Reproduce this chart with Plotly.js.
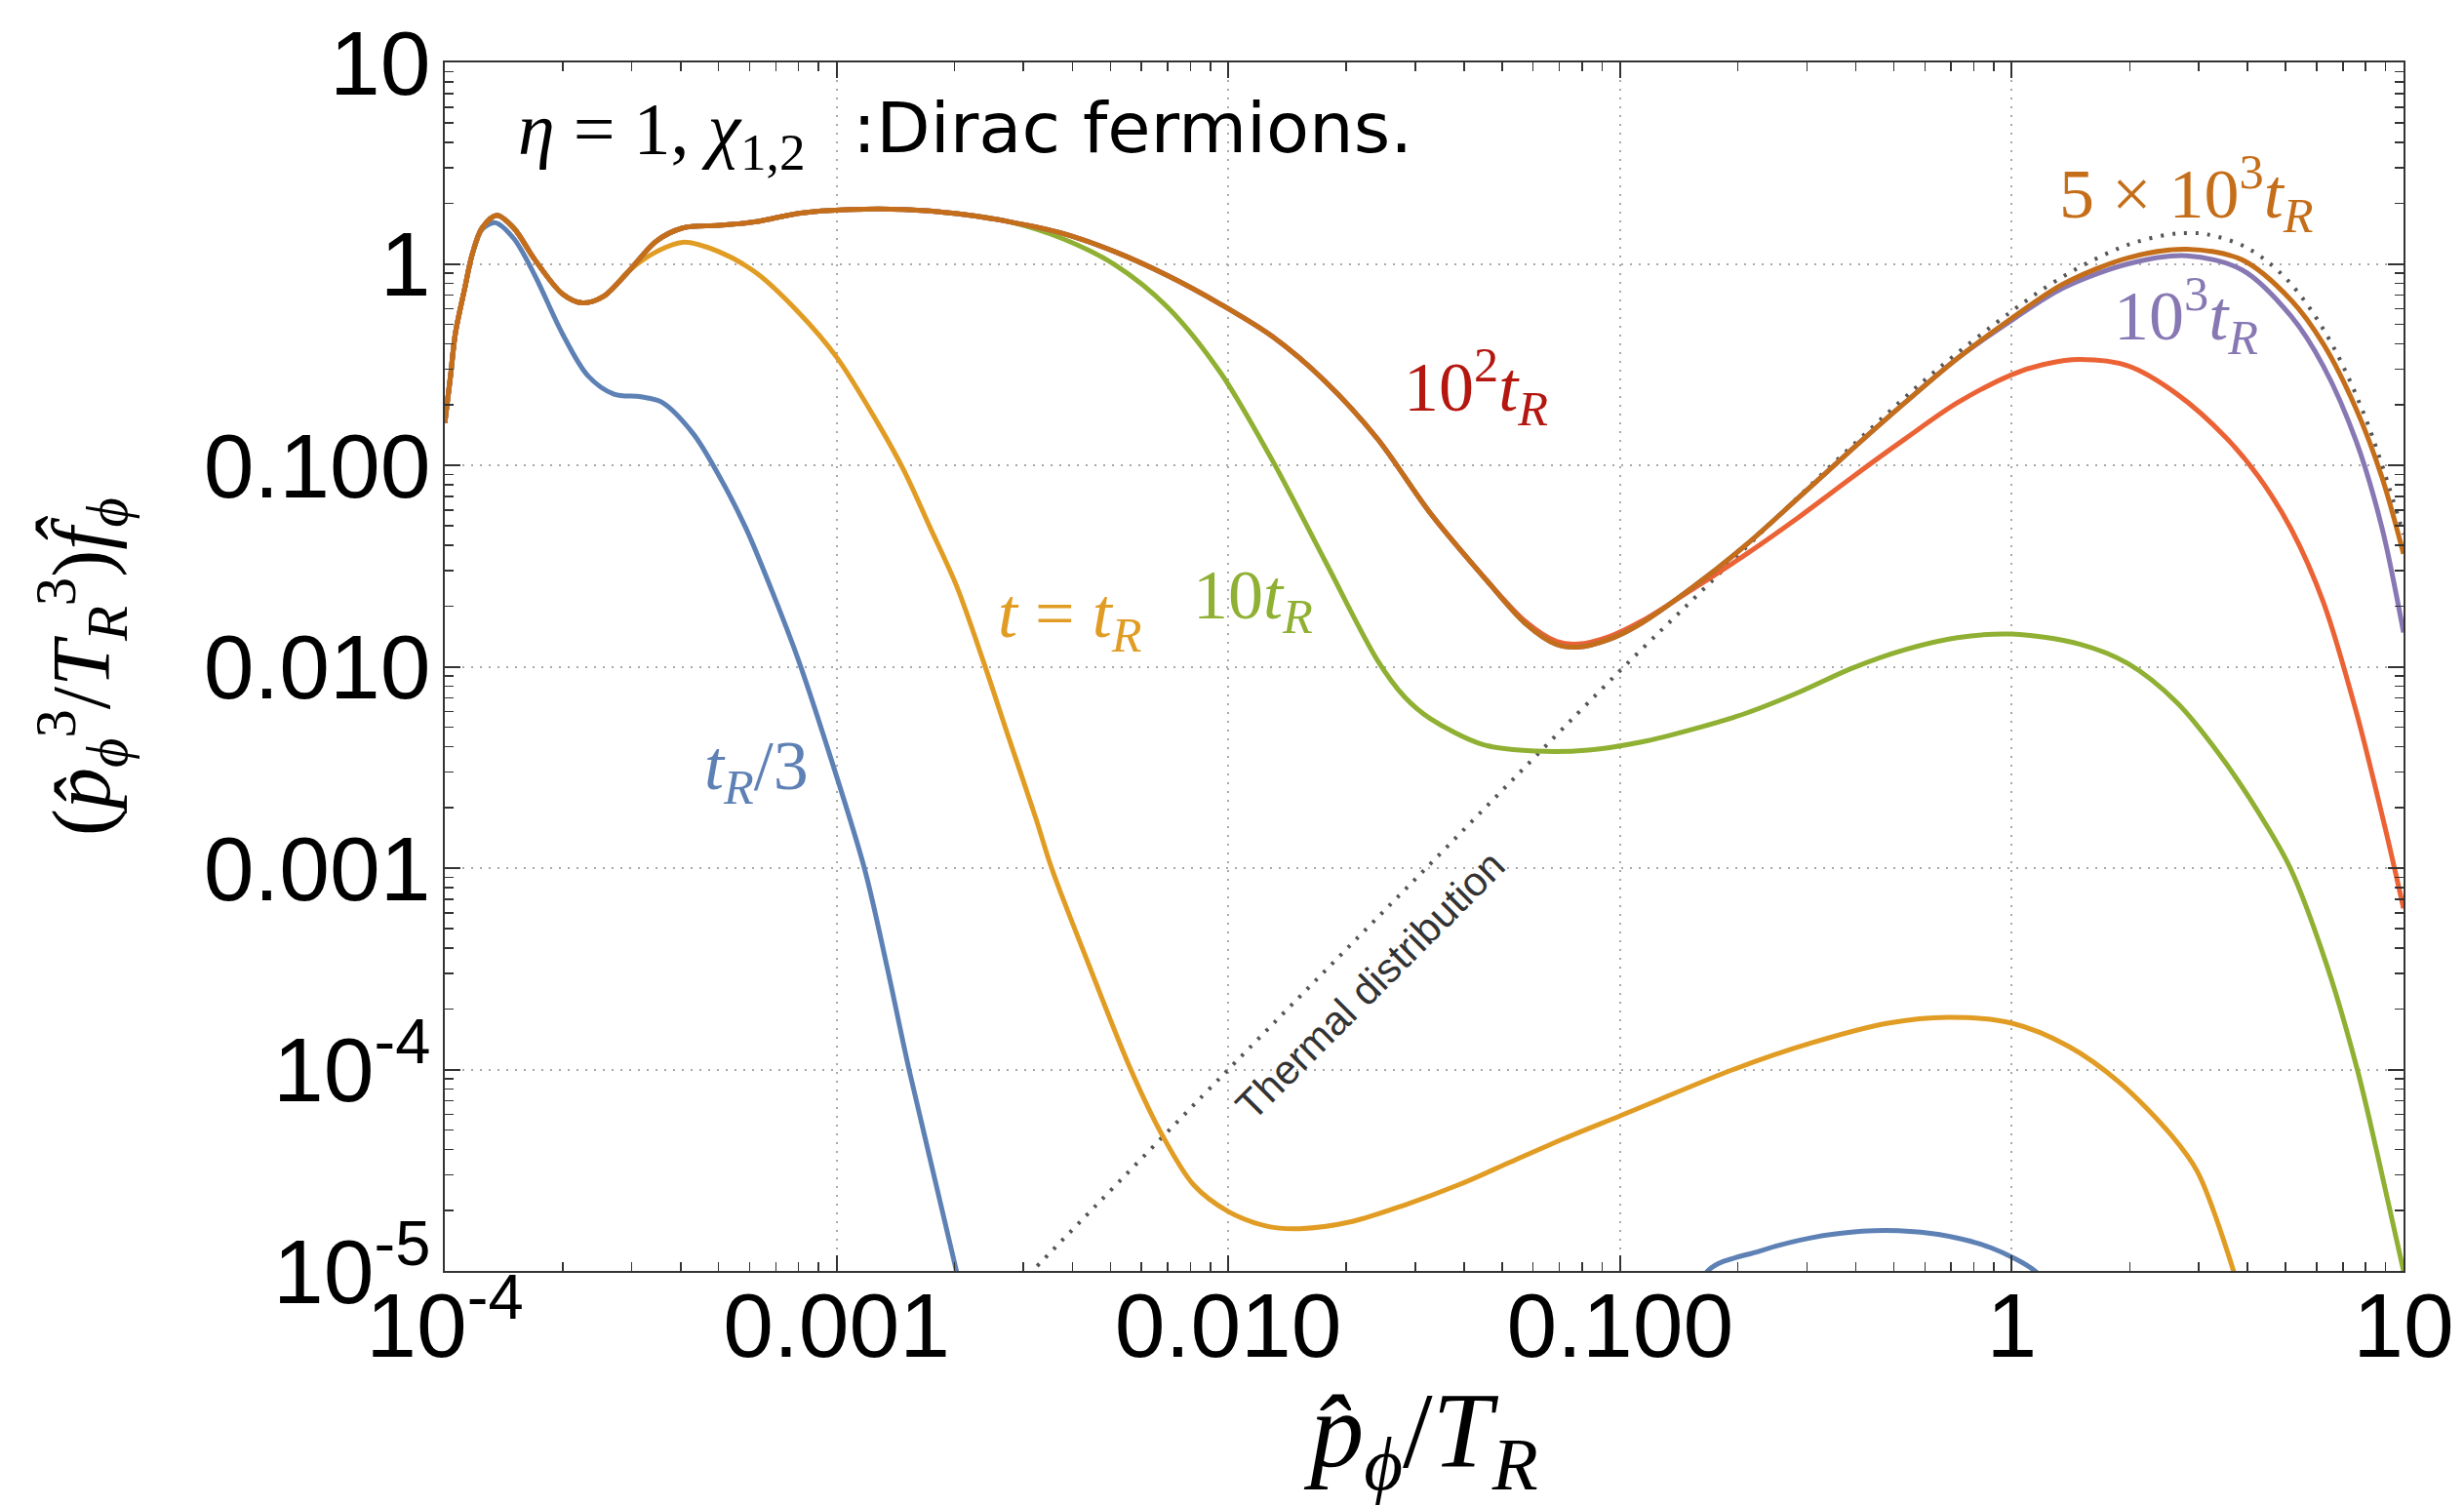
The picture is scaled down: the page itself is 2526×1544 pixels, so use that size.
<!DOCTYPE html>
<html>
<head>
<meta charset="utf-8">
<script src="https://cdn.plot.ly/plotly-3.0.1.min.js"></script>
<style>html,body{margin:0;padding:0;background:#ffffff;}</style>
</head>
<body>
<div id="chart" style="width:2526px;height:1544px;"></div>
<script>
// All curve values are readings from the reference, stored as log10(x) / log10(y).
// Shared low-momentum part (all curves coincide here)
const commonLogX = [-4.0, -3.985, -3.973, -3.95, -3.93, -3.905, -3.867, -3.824, -3.77, -3.70, -3.649, -3.595, -3.528, -3.46, -3.393, -3.30, -3.205, -3.097, -2.962, -2.828, -2.693, -2.559];
const commonLogY = [-0.79, -0.55, -0.345, -0.13, 0.047, 0.178, 0.241, 0.178, 0.02, -0.149, -0.194, -0.162, -0.031, 0.113, 0.178, 0.191, 0.209, 0.251, 0.27, 0.27, 0.249, 0.209];

// 5x10^3 t_R (continuation after the common part)
const brownTailLogX = [-2.424, -2.289, -2.155, -2.02, -1.888, -1.754, -1.619, -1.485, -1.35, -1.242, -1.162, -1.108, -1.027, -0.946, -0.812, -0.677, -0.542, -0.408, -0.273, -0.139, 0, 0.131, 0.297, 0.447, 0.588, 0.713, 0.796, 0.879, 0.945, 1.0];
const brownTailLogY = [0.152, 0.06, -0.058, -0.2, -0.36, -0.581, -0.869, -1.236, -1.55, -1.785, -1.89, -1.903, -1.864, -1.785, -1.602, -1.393, -1.157, -0.921, -0.69, -0.47, -0.27, -0.1, 0.03, 0.073, 0.02, -0.18, -0.40, -0.72, -1.06, -1.44];

// 10^3 t_R (follows 5x10^3 t_R up to p ~ 0.7)
const purpleTailLogX = [0, 0.131, 0.297, 0.447, 0.588, 0.713, 0.796, 0.879, 0.945, 1.0];
const purpleTailLogY = [-0.28, -0.12, 0.0, 0.04, -0.03, -0.26, -0.51, -0.88, -1.31, -1.83];

// 10^2 t_R (follows 5x10^3 t_R up to p ~ 0.045)
const redTailLogX = [-1.242, -1.162, -1.108, -1.027, -0.946, -0.812, -0.677, -0.542, -0.408, -0.273, -0.139, 0, 0.08, 0.173, 0.297, 0.422, 0.547, 0.63, 0.713, 0.796, 0.879, 0.953, 1.0];
const redTailLogY = [-1.775, -1.875, -1.888, -1.85, -1.775, -1.612, -1.44, -1.255, -1.06, -0.87, -0.69, -0.55, -0.5, -0.475, -0.507, -0.647, -0.863, -1.057, -1.316, -1.683, -2.222, -2.8, -3.2];

// 10 t_R
const greenTailLogX = [-2.424, -2.289, -2.155, -2.02, -1.888, -1.754, -1.619, -1.55, -1.485, -1.35, -1.215, -1.081, -0.946, -0.812, -0.677, -0.542, -0.408, -0.273, -0.139, 0, 0.173, 0.297, 0.422, 0.547, 0.654, 0.711, 0.803, 0.882, 0.934, 1.0];
const greenTailLogY = [0.126, -0.005, -0.215, -0.54, -0.974, -1.471, -1.969, -2.15, -2.257, -2.387, -2.419, -2.414, -2.374, -2.309, -2.23, -2.126, -2.008, -1.916, -1.856, -1.838, -1.888, -1.985, -2.179, -2.481, -2.8, -3.0, -3.475, -4.0, -4.426, -5.0];

// t = t_R
const yellowTailLogX = [-3.46, -3.393, -3.30, -3.205, -3.097, -3.0, -2.895, -2.828, -2.76, -2.693, -2.626, -2.559, -2.491, -2.451, -2.357, -2.249, -2.168, -2.088, -2.0, -1.899, -1.818, -1.683, -1.549, -1.414, -1.279, -1.144, -1.0, -0.908, -0.711, -0.513, -0.316, -0.164, 0, 0.145, 0.276, 0.408, 0.474, 0.566, 0.6];
const yellowTailLogY = [0.06, 0.107, 0.06, -0.045, -0.241, -0.463, -0.79, -1.026, -1.314, -1.602, -1.969, -2.361, -2.754, -3.0, -3.475, -4.0, -4.328, -4.574, -4.705, -4.779, -4.79, -4.754, -4.672, -4.574, -4.459, -4.344, -4.23, -4.156, -4.0, -3.869, -3.77, -3.741, -3.77, -3.885, -4.066, -4.328, -4.508, -5.0, -5.25];

// t_R / 3 (gap where the curve is below the plotted range)
const blueTailLogX = [-3.905, -3.871, -3.824, -3.77, -3.70, -3.635, -3.568, -3.50, -3.447, -3.366, -3.30, -3.231, -3.164, -3.097, -3.03, -2.929, -2.87, -2.815, -2.694, -2.65, null, -0.82, -0.776, -0.645, -0.513, -0.382, -0.289, -0.184, -0.053, 0.059, 0.1];
const blueTailLogY = [0.17, 0.204, 0.126, -0.058, -0.346, -0.555, -0.647, -0.66, -0.686, -0.843, -1.052, -1.314, -1.628, -1.969, -2.361, -3.0, -3.5, -4.0, -5.0, -5.4, null, -5.3, -5.0, -4.902, -4.836, -4.803, -4.8, -4.82, -4.885, -5.0, -5.1];

// Thermal distribution (dotted)
const thermalLogX = [-2.55, -2.5, -2.0, -1.5, -1.0, -0.8, -0.6, -0.4, -0.2, 0, 0.1, 0.2, 0.3, 0.4, 0.45, 0.5, 0.6, 0.7, 0.8, 0.9, 1.0];
const thermalLogY = [-5.1, -5.0, -4.0, -3.01, -2.02, -1.64, -1.26, -0.89, -0.54, -0.235, -0.10, 0.011, 0.097, 0.146, 0.153, 0.146, 0.08, -0.073, -0.34, -0.75, -1.343];

const xTickVals = [1e-4, 1e-3, 1e-2, 1e-1, 1, 10];
const xTickText = ["10<sup>-4</sup>", "0.001", "0.010", "0.100", "1", "10"];
const yTickVals = [1e-5, 1e-4, 1e-3, 1e-2, 1e-1, 1, 10];
const yTickText = ["10<sup>-5</sup>", "10<sup>-4</sup>", "0.001", "0.010", "0.100", "1", "10"];

const seriesNames = ["t_R/3", "t = t_R", "10 t_R", "10^2 t_R", "10^3 t_R", "5x10^3 t_R"];
const seriesColors = ["#5E81B5", "#E19C24", "#8FB032", "#EB6235", "#8778B3", "#C56E1A"];

const pow10 = a => a.map(v => (v === null ? null : Math.pow(10, v)));

const blueLX = commonLogX.slice(0, 5).concat(blueTailLogX);
const blueLY = commonLogY.slice(0, 5).concat(blueTailLogY);
const yellowLX = commonLogX.slice(0, 13).concat(yellowTailLogX);
const yellowLY = commonLogY.slice(0, 13).concat(yellowTailLogY);
const greenLX = commonLogX.concat(greenTailLogX);
const greenLY = commonLogY.concat(greenTailLogY);
const redLX = commonLogX.concat(brownTailLogX.slice(0, 9), redTailLogX);
const redLY = commonLogY.concat(brownTailLogY.slice(0, 9), redTailLogY);
const purpleLX = commonLogX.concat(brownTailLogX.slice(0, 20), purpleTailLogX);
const purpleLY = commonLogY.concat(brownTailLogY.slice(0, 20), purpleTailLogY);
const brownLX = commonLogX.concat(brownTailLogX);
const brownLY = commonLogY.concat(brownTailLogY);

const curveXs = [blueLX, yellowLX, greenLX, redLX, purpleLX, brownLX];
const curveYs = [blueLY, yellowLY, greenLY, redLY, purpleLY, brownLY];

const traces = [{
  x: pow10(thermalLogX), y: pow10(thermalLogY), type: 'scatter', mode: 'lines',
  name: 'Thermal distribution',
  line: {color: '#555555', width: 4, dash: '3px,9px', shape: 'spline', smoothing: 1},
  hoverinfo: 'skip'
}];
for (let i = 0; i < seriesNames.length; i++) {
  traces.push({
    x: pow10(curveXs[i]), y: pow10(curveYs[i]), type: 'scatter', mode: 'lines',
    name: seriesNames[i], connectgaps: false,
    line: {color: seriesColors[i], width: 5, shape: 'spline', smoothing: 0.9}
  });
}

function minorVals(d0, d1) {
  const out = [];
  for (let d = d0; d < d1; d++) for (let k = 2; k <= 9; k++) out.push(k * Math.pow(10, d));
  return out;
}

const axisCommon = {
  type: 'log', tickmode: 'array', ticks: 'inside', ticklen: 16, tickwidth: 2, tickcolor: '#333',
  showline: true, linecolor: '#333', linewidth: 2, mirror: 'allticks',
  showgrid: true, gridcolor: '#a8a8a8', gridwidth: 2, griddash: '2px,7px', zeroline: false,
  tickfont: {family: 'Liberation Sans, Arial, sans-serif', size: 93, color: '#000'}
};

const serif = 'Liberation Serif, Times New Roman, serif';
const sans = 'Liberation Sans, Arial, sans-serif';
const PX = X => (X - 456) / 2008;
const PY = Y => 1 - (Y - 64) / 1239;

const labels = [
  {text: '<i>t</i><sub><i>R</i></sub>/3', X: 775, Y: 790, color: '#5E81B5'},
  {text: '<i>t</i> = <i>t</i><sub><i>R</i></sub>', X: 1096, Y: 634, color: '#E19C24'},
  {text: '10<i>t</i><sub><i>R</i></sub>', X: 1284, Y: 615, color: '#8FB032'},
  {text: '10<sup>2</sup><i>t</i><sub><i>R</i></sub>', X: 1513, Y: 396, color: '#B3170F'},
  {text: '10<sup>3</sup><i>t</i><sub><i>R</i></sub>', X: 2241, Y: 324, color: '#8778B3'},
  {text: '5 × 10<sup>3</sup><i>t</i><sub><i>R</i></sub>', X: 2241, Y: 198, color: '#C56E1A'}
];

const annotations = labels.map(l => ({
  xref: 'paper', yref: 'paper', x: PX(l.X), y: PY(l.Y), xanchor: 'center', yanchor: 'middle',
  showarrow: false, text: l.text, font: {family: serif, size: 72, color: l.color}
}));
annotations.push({
  xref: 'paper', yref: 'paper', x: PX(1404), y: PY(1010), xanchor: 'center', yanchor: 'middle',
  showarrow: false, text: 'Thermal distribution', textangle: -45,
  font: {family: sans, size: 42, color: '#333'}
});
annotations.push({
  xref: 'paper', yref: 'paper', x: PX(529), y: PY(138), xanchor: 'left', yanchor: 'middle',
  showarrow: false, text: '<i>η</i>\u00A0=\u00A01,\u00A0<i>χ</i><sub>1,2</sub>',
  font: {family: serif, size: 76, color: '#000'}
});
annotations.push({
  xref: 'paper', yref: 'paper', x: PX(872), y: PY(131), xanchor: 'left', yanchor: 'middle',
  showarrow: false, text: ':Dirac fermions.',
  font: {family: 'DejaVu Sans, Verdana, sans-serif', size: 72, color: '#000'}
});

const layout = {
  width: 2526, height: 1544,
  margin: {l: 456, r: 62, t: 64, b: 241},
  paper_bgcolor: '#ffffff', plot_bgcolor: '#ffffff',
  showlegend: false,
  xaxis: Object.assign({}, axisCommon, {
    range: [-4, 1], tickvals: xTickVals, ticktext: xTickText, ticklabelstandoff: -26,
    minor: {tickmode: 'array', tickvals: minorVals(-4, 1), ticks: 'inside', ticklen: 9, tickwidth: 1.5, tickcolor: '#333', showgrid: false},
    title: {text: '<i>p̂</i><sub><i>ϕ</i></sub>/<i>T</i><sub><i>R</i></sub>', font: {family: serif, size: 110, color: '#000'}, standoff: 75}
  }),
  yaxis: Object.assign({}, axisCommon, {
    range: [-5, 1], tickvals: yTickVals, ticktext: yTickText, ticklabelstandoff: -6,
    minor: {tickmode: 'array', tickvals: minorVals(-5, 1), ticks: 'inside', ticklen: 9, tickwidth: 1.5, tickcolor: '#333', showgrid: false},
    title: {text: '(<i>p̂</i><sub><i>ϕ</i></sub><sup>3</sup>/<i>T</i><sub><i>R</i></sub><sup>3</sup>)<i>f̂</i><sub><i>ϕ</i></sub>', font: {family: serif, size: 84, color: '#000'}, standoff: 68}
  }),
  annotations: annotations
};

Plotly.newPlot('chart', traces, layout, {staticPlot: true, displayModeBar: false});
</script>
</body>
</html>
